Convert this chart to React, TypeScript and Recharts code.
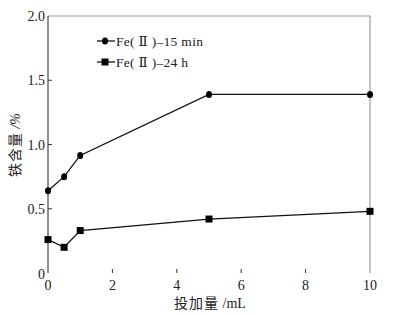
import React from 'react';
import { LineChart, Line, XAxis, YAxis, ReferenceLine } from 'recharts';

const dose = [0, 0.5, 1, 5, 10];
const fe15min = [0.64, 0.75, 0.915, 1.39, 1.39];
const fe24h = [0.26, 0.2, 0.33, 0.42, 0.48];
const xTicks = [0, 2, 4, 6, 8, 10];
const yTicks = [0, 0.5, 1.0, 1.5, 2.0];
const seriesNames = ['Fe( Ⅱ )–15 min', 'Fe( Ⅱ )–24 h'];

const data = dose.map((d, i) => ({ dose: d, a: fe15min[i], b: fe24h[i] }));

const FONT = 'Liberation Serif, DejaVu Serif, serif';
const CJK = 'Noto Sans CJK SC, sans-serif';

const XTick = (props: any) => {
  const { x, y, payload } = props;
  return (
    <g>
      {payload.value !== 0 && payload.value !== 10 && (
        <line x1={x} x2={x} y1={y - 4} y2={y} stroke="#333" strokeWidth={1} />
      )}
      <text x={x} y={y + 17} textAnchor="middle" style={{ fontFamily: FONT, fontSize: 14 }} fill="#222">
        {payload.value}
      </text>
    </g>
  );
};

const YTick = (props: any) => {
  const { x, y, payload } = props;
  const v = payload.value;
  return (
    <g>
      {v !== 0 && v !== 2 && <line x1={x} x2={x + 4} y1={y} y2={y} stroke="#333" strokeWidth={1} />}
      <text x={x - 3} y={v === 0 ? y + 6 : y + 5} textAnchor="end" style={{ fontFamily: FONT, fontSize: 14 }} fill="#222">
        {v === 0 ? '0' : v.toFixed(1)}
      </text>
    </g>
  );
};

const SquareDot = (props: any) => {
  const { cx, cy, index } = props;
  return <rect key={`sq-${index}`} x={cx - 3.5} y={cy - 3.5} width={7} height={7} fill="#000" />;
};

const CircleDot = (props: any) => {
  const { cx, cy, index } = props;
  return <ellipse key={`ci-${index}`} cx={cx} cy={cy} rx={3} ry={3.5} fill="#000" />;
};

export default function App() {
  return (
    <div style={{ position: 'absolute', left: 0, top: 0, width: 399, height: 314, background: '#fff' }}>
      <LineChart width={399} height={314} data={data} margin={{ top: 16, right: 29, left: 0, bottom: 0 }}>
        <XAxis
          dataKey="dose"
          type="number"
          domain={[0, 10]}
          ticks={xTicks}
          axisLine={false}
          tickLine={false}
          tickSize={0}
          tickMargin={0}
          height={41}
          tick={<XTick />}
        />
        <YAxis
          type="number"
          domain={[0, 2]}
          ticks={yTicks}
          axisLine={{ stroke: '#222', strokeWidth: 1 }}
          tickLine={false}
          tickSize={0}
          tickMargin={0}
          width={48}
          tick={<YTick />}
        />
        <ReferenceLine y={2} stroke="#999" strokeWidth={1.2} />
        <ReferenceLine x={10} stroke="#999" strokeWidth={1.2} />
        <Line dataKey="a" stroke="#111" strokeWidth={1.3} dot={<CircleDot />} isAnimationActive={false} />
        <Line dataKey="b" stroke="#111" strokeWidth={1.3} dot={<SquareDot />} isAnimationActive={false} />
      </LineChart>

      <svg width={399} height={314} style={{ position: 'absolute', left: 0, top: 0, pointerEvents: 'none' }}>
        {/* legend */}
        {seriesNames.map((name, i) => {
          const cy = 41 + i * 21;
          return (
            <g key={name}>
              <line x1={97} x2={115} y1={cy} y2={cy} stroke="#111" strokeWidth={1.3} />
              {i === 0 ? (
                <ellipse cx={105} cy={cy} rx={3} ry={3.5} fill="#000" />
              ) : (
                <rect x={101.5} y={cy - 3.5} width={7} height={7} fill="#000" />
              )}
              <text x={116} y={cy + 4.5} style={{ fontFamily: FONT, fontSize: 13.5, letterSpacing: 0.3 }} fill="#222">
                {name}
              </text>
            </g>
          );
        })}

        {/* x title */}
        <text x={210} y={308} textAnchor="middle" style={{ fontSize: 14 }} fill="#222">
          <tspan style={{ fontFamily: CJK, letterSpacing: 1 }}>投加量</tspan>
          <tspan style={{ fontFamily: FONT }}> /mL</tspan>
        </text>

        {/* y title */}
        <text x={0} y={0} transform="translate(20,145) rotate(-90)" textAnchor="middle" style={{ fontSize: 14 }} fill="#222">
          <tspan style={{ fontFamily: CJK, letterSpacing: 1 }}>铁含量</tspan>
          <tspan style={{ fontFamily: FONT, fontStyle: 'italic' }}> /%</tspan>
        </text>
      </svg>
    </div>
  );
}
